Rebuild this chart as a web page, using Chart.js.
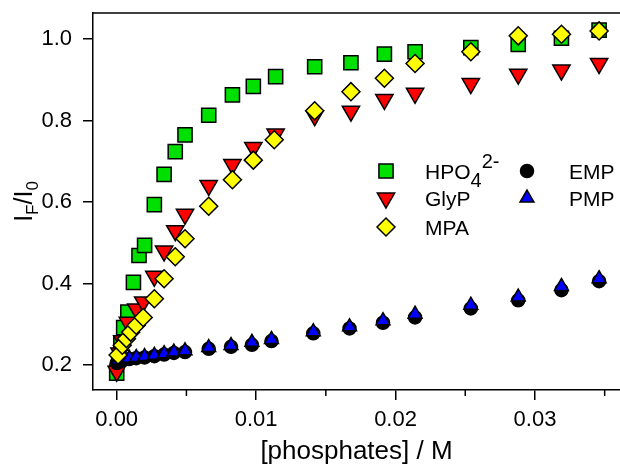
<!DOCTYPE html>
<html>
<head>
<meta charset="utf-8">
<script src="https://cdn.jsdelivr.net/npm/chart.js@4.4.0/dist/chart.umd.min.js"></script>
<style>
  html, body { margin: 0; padding: 0; background: #fff; overflow: hidden; }
</style>
</head>
<body>
<canvas id="chart" width="620" height="469"></canvas>
<script>
const FONT = "'Liberation Sans', Arial, sans-serif";

// HPO4(2-)
const hpoX = [0, 0.0003, 0.0005, 0.0008, 0.0012, 0.0016, 0.0020, 0.0027, 0.0034, 0.0042, 0.0049, 0.0066, 0.0083, 0.0098, 0.0114, 0.0142, 0.0168, 0.0192, 0.0214, 0.0254, 0.0288, 0.0319, 0.0346];
const hpoY = [0.18, 0.254, 0.292, 0.33, 0.403, 0.469, 0.494, 0.594, 0.668, 0.724, 0.765, 0.813, 0.863, 0.884, 0.908, 0.932, 0.942, 0.963, 0.969, 0.979, 0.987, 1.002, 1.022];

// glycerophosphate
const glyX = [0, 0.0002, 0.0004, 0.0008, 0.0014, 0.0019, 0.0027, 0.0034, 0.0042, 0.0049, 0.0066, 0.0083, 0.0098, 0.0114, 0.0142, 0.0168, 0.0192, 0.0214, 0.0254, 0.0288, 0.0319, 0.0346];
const glyY = [0.185, 0.23, 0.26, 0.305, 0.338, 0.355, 0.418, 0.48, 0.53, 0.57, 0.641, 0.692, 0.734, 0.767, 0.812, 0.823, 0.852, 0.867, 0.891, 0.914, 0.924, 0.94];

// methylphosphonic acid
const mpaX = [0.0001, 0.0004, 0.0007, 0.0010, 0.0014, 0.0019, 0.0027, 0.0034, 0.0042, 0.0049, 0.0066, 0.0083, 0.0098, 0.0113, 0.0142, 0.0168, 0.0192, 0.0214, 0.0254, 0.0288, 0.0319, 0.0346];
const mpaY = [0.225, 0.249, 0.265, 0.281, 0.298, 0.317, 0.363, 0.412, 0.466, 0.51, 0.59, 0.655, 0.703, 0.753, 0.824, 0.871, 0.904, 0.94, 0.969, 1.008, 1.012, 1.02];

// EMP and PMP share the concentration steps
const monoX = [0, 0.0001, 0.0002, 0.0005, 0.0009, 0.0014, 0.0020, 0.0027, 0.0034, 0.0041, 0.0049, 0.0066, 0.0082, 0.0097, 0.0111, 0.0141, 0.0167, 0.0191, 0.0214, 0.0254, 0.0288, 0.0319, 0.0346];
const empY = [0.205, 0.212, 0.208, 0.213, 0.215, 0.217, 0.219, 0.222, 0.226, 0.23, 0.232, 0.24, 0.245, 0.25, 0.259, 0.278, 0.29, 0.304, 0.317, 0.339, 0.359, 0.384, 0.406];
const pmpY = [0.21, 0.213, 0.212, 0.215, 0.217, 0.219, 0.221, 0.224, 0.228, 0.232, 0.235, 0.243, 0.248, 0.256, 0.263, 0.282, 0.294, 0.309, 0.325, 0.347, 0.367, 0.393, 0.412];

const xTicks = [0, 0.01, 0.02, 0.03];
const xMinorTicks = [0.005, 0.015, 0.025, 0.035];
const yTicks = [0.2, 0.4, 0.6, 0.8, 1.0];

const pts = (xs, ys) => xs.map((x, i) => ({ x: x, y: ys[i] }));

function marker(style, color, radius, rotation) {
  return {
    pointStyle: style,
    pointRadius: radius,
    pointHoverRadius: radius,
    pointRotation: rotation || 0,
    backgroundColor: color,
    borderColor: '#000',
    borderWidth: 1.5,
    showLine: false
  };
}

const datasets = [
  Object.assign({ label: 'HPO4', data: pts(hpoX, hpoY), order: 4 }, marker('rect', '#00e000', 10)),
  Object.assign({ label: 'GlyP', data: pts(glyX, glyY), order: 3 }, marker('triangle', '#ff0000', 10, 180)),
  Object.assign({ label: 'EMP', data: pts(monoX, empY), order: 2 }, marker('circle', '#000000', 6.5)),
  Object.assign({ label: 'PMP', data: pts(monoX, pmpY), order: 1 }, marker('triangle', '#0000ff', 8)),
  Object.assign({ label: 'MPA', data: pts(mpaX, mpaY), order: 0 }, marker('rectRot', '#ffff00', 9))
];

// legend entries; parts are [text, font size, baseline shift]
const legendItems = [
  { ds: 0, col: 0, row: 0, parts: [['HPO', 21, 0], ['4', 20, 8], ['2-', 20, -11]] },
  { ds: 1, col: 0, row: 1, parts: [['GlyP', 21, 0]] },
  { ds: 4, col: 0, row: 2, parts: [['MPA', 21, 0]] },
  { ds: 2, col: 1, row: 0, parts: [['EMP', 21, 0]] },
  { ds: 3, col: 1, row: 1, parts: [['PMP', 21, 0]] }
];

// drop the label overhang padding so the plot box sits where layout.padding says
function noOverhang(s) {
  s.paddingTop = 0;
  s.paddingBottom = 0;
  s.paddingLeft = 0;
  s.paddingRight = 0;
}

const extras = {
  id: 'extras',
  afterDraw(chart) {
    const ctx = chart.ctx;
    const area = chart.chartArea;
    const xs = chart.scales.x;
    ctx.save();
    ctx.strokeStyle = '#000';
    ctx.lineWidth = 1.5;
    // top frame line
    ctx.beginPath();
    ctx.moveTo(area.left, area.top);
    ctx.lineTo(area.right, area.top);
    ctx.stroke();
    // minor ticks on x
    xMinorTicks.forEach(v => {
      const px = xs.getPixelForValue(v);
      ctx.beginPath();
      ctx.moveTo(px, area.bottom);
      ctx.lineTo(px, area.bottom + 6);
      ctx.stroke();
    });

    // y axis title I_F/I_0
    ctx.fillStyle = '#000';
    ctx.textBaseline = 'alphabetic';
    ctx.textAlign = 'left';
    const title = [['I', 25, 0], ['F', 17, 6], ['/I', 25, 0], ['0', 17, 6]];
    let total = 0;
    title.forEach(p => { ctx.font = p[1] + 'px ' + FONT; total += ctx.measureText(p[0]).width; });
    ctx.save();
    ctx.translate(32, (area.top + area.bottom) / 2);
    ctx.rotate(-Math.PI / 2);
    let cx = -total / 2;
    title.forEach(p => {
      ctx.font = p[1] + 'px ' + FONT;
      ctx.fillText(p[0], cx, p[2]);
      cx += ctx.measureText(p[0]).width;
    });
    ctx.restore();

    // legend
    const colMarker = [386, 527];
    const colText = [425, 569];
    const rowY = [171, 198, 227];
    legendItems.forEach(item => {
      const ds = chart.data.datasets[item.ds];
      ctx.fillStyle = ds.backgroundColor;
      ctx.strokeStyle = '#000';
      ctx.lineWidth = 1.5;
      Chart.helpers.drawPoint(ctx, {
        pointStyle: ds.pointStyle,
        radius: ds.pointRadius,
        rotation: ds.pointRotation,
        borderWidth: 1.5
      }, colMarker[item.col], rowY[item.row]);
      ctx.fillStyle = '#000';
      let tx = colText[item.col];
      const base = rowY[item.row] + 7.5;
      item.parts.forEach(p => {
        ctx.font = p[1] + 'px ' + FONT;
        ctx.fillText(p[0], tx, base + p[2]);
        tx += ctx.measureText(p[0]).width;
      });
    });
    ctx.restore();
  }
};

new Chart(document.getElementById('chart'), {
  type: 'scatter',
  data: { datasets: datasets },
  plugins: [extras],
  options: {
    responsive: false,
    animation: false,
    devicePixelRatio: 1,
    layout: { autoPadding: false, padding: { top: 13, right: 0, bottom: 0, left: 0 } },
    plugins: { legend: { display: false }, tooltip: { enabled: false } },
    scales: {
      x: {
        type: 'linear',
        min: -0.0017,
        max: 0.0361,
        afterBuildTicks: s => { s.ticks = xTicks.map(v => ({ value: v })); },
        afterFit: s => { s.height = 79; noOverhang(s); },
        ticks: {
          callback: v => v.toFixed(2),
          color: '#000',
          font: { family: FONT, size: 22 },
          padding: 7,
          maxRotation: 0,
          autoSkip: false
        },
        grid: { display: true, drawOnChartArea: false, drawTicks: true, tickLength: 10, color: '#000', lineWidth: 1.5 },
        border: { display: true, color: '#000', width: 1.5 },
        title: {
          display: true,
          text: '[phosphates] / M',
          color: '#000',
          font: { family: FONT, size: 26 },
          padding: { top: 0, bottom: 2 }
        }
      },
      y: {
        type: 'linear',
        min: 0.139,
        max: 1.064,
        afterBuildTicks: s => { s.ticks = yTicks.map(v => ({ value: v })); },
        afterFit: s => { s.width = 93; noOverhang(s); },
        ticks: {
          callback: v => v.toFixed(1),
          color: '#000',
          font: { family: FONT, size: 22 },
          padding: 11,
          autoSkip: false
        },
        grid: { display: true, drawOnChartArea: false, drawTicks: true, tickLength: 10, color: '#000', lineWidth: 1.5 },
        border: { display: true, color: '#000', width: 1.5 }
      }
    }
  }
});
</script>
</body>
</html>
